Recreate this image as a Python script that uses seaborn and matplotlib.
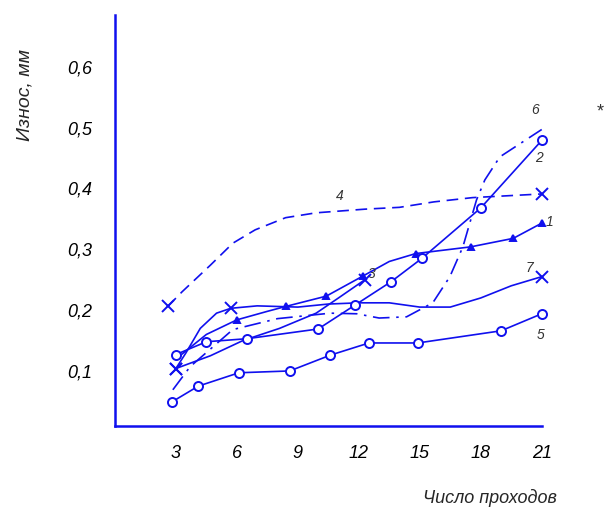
import numpy as np
import matplotlib
matplotlib.use("Agg")
import matplotlib.pyplot as plt
import pandas as pd
import seaborn as sns

# values (число проходов -> износ, мм)
x1 = [3.2, 4.5, 6.0, 7.5, 8.4, 10.4, 12.2, 13.5, 14.8, 17.5, 19.6, 21.0]
y1 = [0.125, 0.160, 0.184, 0.198, 0.206, 0.223, 0.256, 0.280, 0.293, 0.304, 0.318, 0.343]
tri1 = [2, 4, 5, 6, 8, 9, 10, 11]

x2 = [3.0, 4.5, 6.5, 10.0, 11.8, 13.6, 15.1, 18.0, 21.0]
y2 = [0.127, 0.148, 0.153, 0.169, 0.208, 0.247, 0.285, 0.368, 0.479]

x3 = [3.0, 4.7, 6.3, 8.1, 9.9, 11.0, 12.3]
y3 = [0.104, 0.125, 0.150, 0.170, 0.195, 0.220, 0.250]

x4 = [2.6, 3.3, 4.7, 5.8, 6.9, 8.4, 9.9, 12.3, 14.0, 15.7, 17.6, 21.0]
y4 = [0.206, 0.230, 0.274, 0.310, 0.332, 0.352, 0.360, 0.366, 0.369, 0.378, 0.385, 0.391]

x5 = [2.8, 4.1, 6.1, 8.6, 10.6, 12.5, 14.9, 19.0, 21.0]
y5 = [0.049, 0.075, 0.097, 0.100, 0.126, 0.146, 0.146, 0.166, 0.194]

x6 = [2.85, 3.7, 5.8, 8.0, 10.6, 11.9, 13.0, 14.35, 15.64, 16.48, 17.12, 17.79, 18.2, 18.94, 21.0]
y6 = [0.069, 0.107, 0.168, 0.186, 0.195, 0.194, 0.187, 0.189, 0.212, 0.255, 0.304, 0.381, 0.414, 0.452, 0.497]

x7 = [3.0, 3.5, 4.2, 5.0, 5.7, 7.0, 9.0, 10.5, 12.0, 13.5, 15.0, 16.5, 18.0, 19.5, 21.0]
y7 = [0.104, 0.130, 0.170, 0.195, 0.203, 0.207, 0.205, 0.210, 0.212, 0.212, 0.205, 0.205, 0.220, 0.240, 0.255]

labels = ["1", "2", "3", "4", "5", "6", "7"]
label_x = [21.4, 20.85, 12.64, 11.07, 20.95, 20.66, 20.4]
label_y = [0.345, 0.450, 0.260, 0.388, 0.159, 0.529, 0.270]

xticks = [3, 6, 9, 12, 15, 18, 21]
yticks = [0.1, 0.2, 0.3, 0.4, 0.5, 0.6]

sns.set_style("white")
plt.rcParams['font.family'] = ['Liberation Sans', 'DejaVu Sans']

blue = "#1010ee"
fig = plt.figure(figsize=(6.08, 5.12), dpi=100)
ax = fig.add_axes([0.189, 0.168, 0.702, 0.803])


def marks(x, y, idx, marker, ms, mfc="white"):
    px = [x[i] for i in idx]
    py = [y[i] for i in idx]
    ax.plot(px, py, linestyle="none", marker=marker, markersize=ms,
            markerfacecolor=mfc, markeredgecolor=blue, markeredgewidth=1.4,
            clip_on=False, zorder=5)


def curve(x, y, dashes=None):
    sns.lineplot(x=x, y=y, ax=ax, sort=False, color=blue, linewidth=1.2)
    line = ax.lines[-1]
    line.set_clip_on(False)
    if dashes is not None:
        line.set_dashes(dashes)


curve(x1, y1)
marks(x1, y1, tri1, "^", 4, mfc=blue)
curve(x2, y2)
marks(x2, y2, range(len(x2)), "o", 6.5)
curve(x3, y3)
marks(x3, y3, [0, len(x3) - 1], "x", 8)
curve(x4, y4, dashes=[7, 4])
marks(x4, y4, [0, len(x4) - 1], "x", 8)
curve(x5, y5)
marks(x5, y5, range(len(x5)), "o", 6.5)
curve(x6, y6, dashes=[10, 4, 1.5, 4])
curve(x7, y7)
marks(x7, y7, [0, 4, len(x7) - 1], "x", 8)

for t, tx, ty in zip(labels, label_x, label_y):
    ax.text(tx, ty, t, fontsize=10, fontstyle="italic", color="#333333",
            ha="center", va="center")
fig.text(0.987, 0.781, "*", fontsize=13, color="#333333", ha="center", va="center")

ax.set_xlim(0, 21)
ax.set_ylim(0.0095, 0.6855)
ax.set_xticks(xticks)
ax.set_xticklabels([str(v) for v in xticks], fontstyle="italic", fontsize=13)
ax.set_yticks(yticks)
ax.set_yticklabels([f"{v:.1f}".replace(".", ",") for v in yticks],
                   fontstyle="italic", fontsize=13)
ax.tick_params(axis="both", direction="out", length=7, width=1.8, color=blue,
               labelcolor="black")
ax.tick_params(axis="x", pad=7)
ax.tick_params(axis="y", pad=9)

for side in ["top", "right"]:
    ax.spines[side].set_visible(False)
for side in ["left", "bottom"]:
    ax.spines[side].set_color(blue)
    ax.spines[side].set_linewidth(1.8)

ax.set_xlabel("")
ax.set_ylabel("")
fig.text(0.041, 0.814, "Износ, мм", rotation=90, fontsize=14, fontstyle="italic",
         ha="center", va="center")
fig.text(0.806, 0.027, "Число проходов", fontsize=13, fontstyle="italic",
         ha="center", va="center")

fig.savefig("out.png", dpi=100)
